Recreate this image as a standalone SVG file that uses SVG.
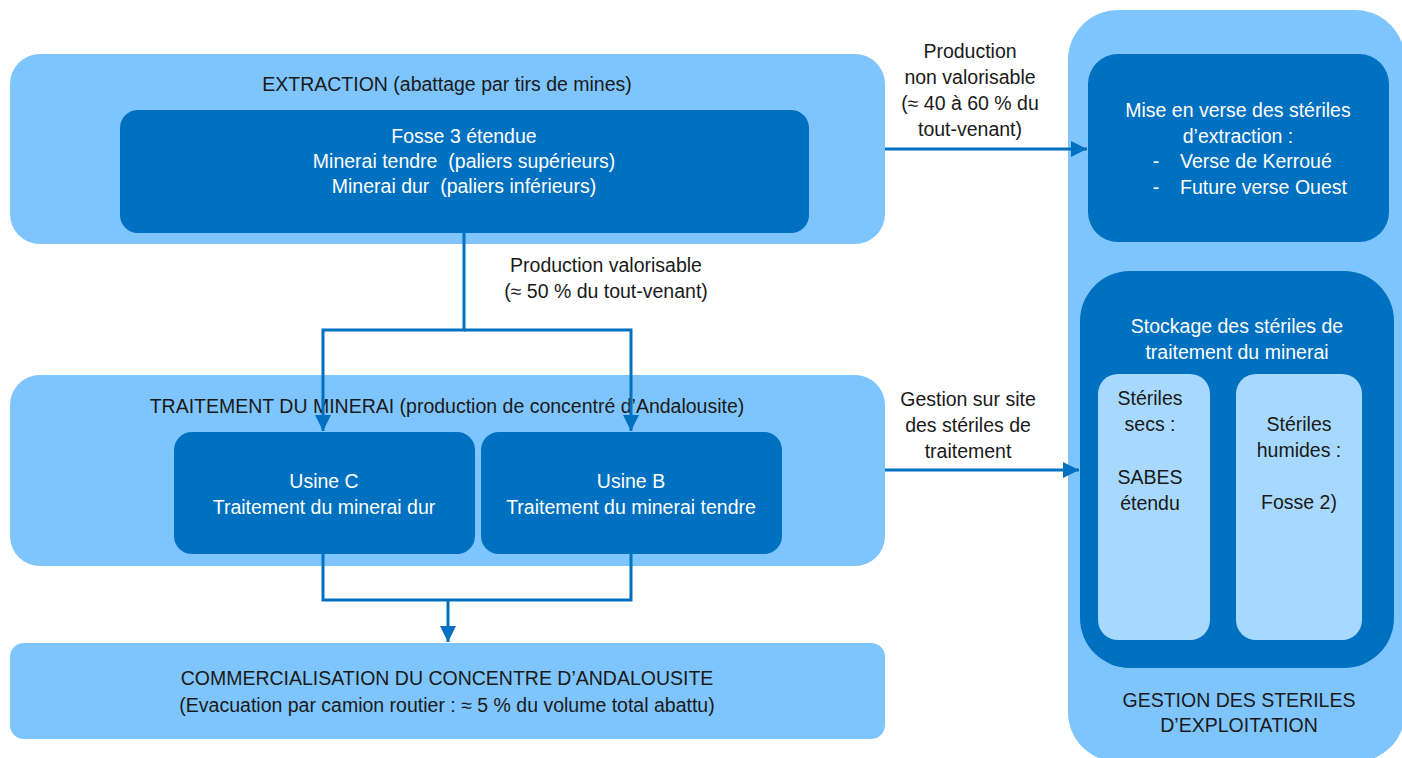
<svg xmlns="http://www.w3.org/2000/svg" width="1402" height="758" viewBox="0 0 1402 758">
<defs>
<style>
.outer{fill:#7fc5fd}
.dark{fill:#0070c0}
.pale{fill:#a7d9fe}
text{font-family:"Liberation Sans",Arial,sans-serif;font-size:19.5px;text-anchor:middle}
.w{fill:#ffffff}
.k{fill:#1a1a1a}
.pre{white-space:pre}
.conn{fill:none;stroke:#0070c0;stroke-width:3}
</style>
<marker id="arr" viewBox="0 0 10 10" refX="10" refY="5" markerWidth="5.5" markerHeight="5.5" markerUnits="strokeWidth" orient="auto">
<path d="M0,0 L10,5 L0,10 z" fill="#0070c0"/>
</marker>
</defs>
<g id="extraction">
<rect class="outer" x="10" y="54" width="875" height="190" rx="30"/>
<text class="k" x="447" y="91">EXTRACTION (abattage par tirs de mines)</text>
</g>
<g id="fosse">
<rect class="dark" x="120" y="110" width="689" height="123" rx="18"/>
<text class="w" x="464" y="143">Fosse 3 étendue</text>
<text class="w pre" x="464" y="168">Minerai tendre  (paliers supérieurs)</text>
<text class="w pre" x="464" y="193">Minerai dur  (paliers inférieurs)</text>
</g>
<g id="traitement">
<rect class="outer" x="10" y="375" width="875" height="191" rx="30"/>
<text class="k" x="447" y="413">TRAITEMENT DU MINERAI (production de concentré d’Andalousite)</text>
</g>
<g id="usineC">
<rect class="dark" x="174" y="432" width="301" height="122" rx="18"/>
<text class="w" x="324" y="488">Usine C</text>
<text class="w" x="324" y="514">Traitement du minerai dur</text>
</g>
<g id="usineB">
<rect class="dark" x="481" y="432" width="301" height="122" rx="18"/>
<text class="w" x="631" y="488">Usine B</text>
<text class="w" x="631" y="514">Traitement du minerai tendre</text>
</g>
<g id="commercialisation">
<rect class="outer" x="10" y="643" width="875" height="96" rx="14"/>
<text class="k" x="447" y="685">COMMERCIALISATION DU CONCENTRE D’ANDALOUSITE</text>
<text class="k" x="447" y="712">(Evacuation par camion routier : ≈ 5 % du volume total abattu)</text>
</g>
<g id="gestion">
<rect class="outer" x="1068" y="10" width="337" height="752" rx="50"/>
<text class="k" x="1239" y="707">GESTION DES STERILES</text>
<text class="k" x="1239" y="732">D’EXPLOITATION</text>
</g>
<g id="verse">
<rect class="dark" x="1088" y="54" width="301" height="188" rx="30"/>
<text class="w" x="1238" y="117">Mise en verse des stériles</text>
<text class="w" x="1238" y="143">d’extraction :</text>
<text class="w" x="1156" y="168">-</text>
<text class="w" x="1180" y="168" style="text-anchor:start">Verse de Kerroué</text>
<text class="w" x="1156" y="194">-</text>
<text class="w" x="1180" y="194" style="text-anchor:start">Future verse Ouest</text>
</g>
<g id="stockage">
<rect class="dark" x="1080" y="271" width="314" height="397" rx="50"/>
<text class="w" x="1237" y="333">Stockage des stériles de</text>
<text class="w" x="1237" y="359">traitement du minerai</text>
</g>
<g id="secs">
<rect class="pale" x="1098" y="374" width="112" height="266" rx="20"/>
<text class="k" x="1150" y="405">Stériles</text>
<text class="k" x="1150" y="431">secs :</text>
<text class="k" x="1150" y="484">SABES</text>
<text class="k" x="1150" y="510">étendu</text>
</g>
<g id="humides">
<rect class="pale" x="1236" y="374" width="126" height="266" rx="20"/>
<text class="k" x="1299" y="431">Stériles</text>
<text class="k" x="1299" y="457">humides :</text>
<text class="k" x="1299" y="509">Fosse 2)</text>
</g>
<g id="connectors">
<path class="conn" d="M464,233 V330 H323 V431" marker-end="url(#arr)"/>
<path class="conn" d="M464,330 H631 V431" marker-end="url(#arr)"/>
<path class="conn" d="M323,554 V600 H631 V554"/>
<path class="conn" d="M448,600 V642" marker-end="url(#arr)"/>
<path class="conn" d="M885,149 H1087" marker-end="url(#arr)"/>
<path class="conn" d="M885,470 H1079" marker-end="url(#arr)"/>
<text class="k" x="606" y="272">Production valorisable</text>
<text class="k" x="606" y="298">(≈ 50 % du tout-venant)</text>
<text class="k" x="970" y="58">Production</text>
<text class="k" x="970" y="84">non valorisable</text>
<text class="k" x="970" y="110">(≈ 40 à 60 % du</text>
<text class="k" x="970" y="136">tout-venant)</text>
<text class="k" x="968" y="406">Gestion sur site</text>
<text class="k" x="968" y="432">des stériles de</text>
<text class="k" x="968" y="458">traitement</text>
</g>
</svg>
